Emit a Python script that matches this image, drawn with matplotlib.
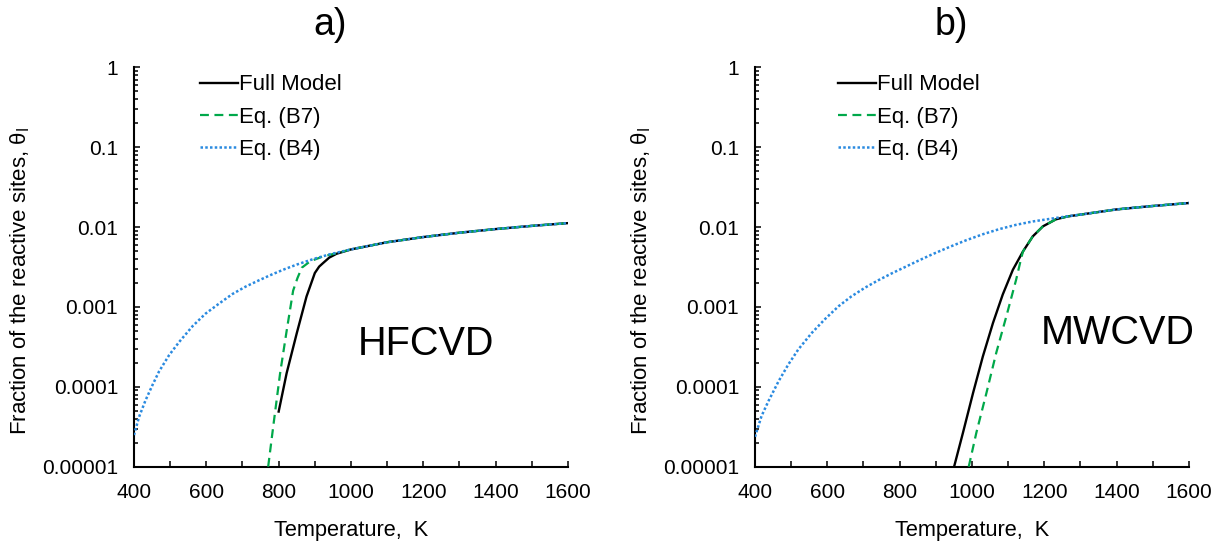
import matplotlib
matplotlib.use('Agg')
import matplotlib.pyplot as plt
from matplotlib.ticker import MultipleLocator, LogLocator, NullFormatter

plt.rcParams['font.family'] = ['Liberation Sans', 'DejaVu Sans']
plt.rcParams['mathtext.fontset'] = 'custom'
plt.rcParams['mathtext.rm'] = 'Liberation Sans'

# --- a) HFCVD ---
full_T_a = [800, 822, 850, 877, 900, 912, 923, 940, 960, 1000, 1100, 1200, 1300, 1400, 1500, 1600]
full_a = [4.9e-5, 1.48e-4, 4.68e-4, 1.35e-3, 2.66e-3, 3.2e-3, 3.55e-3, 4.15e-3, 4.63e-3, 5.25e-3,
          6.46e-3, 7.5e-3, 8.5e-3, 9.44e-3, 1.035e-2, 1.12e-2]
b7_T_a = [771, 785, 804, 822, 840, 852, 864, 887, 923, 960, 1000, 1100, 1200, 1300, 1400, 1500, 1600]
b7_a = [1.0e-5, 3.2e-5, 1.48e-4, 5.0e-4, 1.6e-3, 2.3e-3, 3.1e-3, 3.72e-3, 4.3e-3, 4.7e-3, 5.25e-3,
        6.46e-3, 7.5e-3, 8.5e-3, 9.44e-3, 1.035e-2, 1.12e-2]
b4_T_a = [400, 414, 432, 451, 469, 497, 525, 562, 598, 635, 672, 709, 746, 783, 818, 850, 896, 942,
          1000, 1100, 1200, 1300, 1400, 1500, 1600]
b4_a = [2.49e-5, 4.2e-5, 6.8e-5, 1.05e-4, 1.55e-4, 2.49e-4, 3.65e-4, 5.75e-4, 8.26e-4, 1.10e-3,
        1.45e-3, 1.80e-3, 2.16e-3, 2.57e-3, 2.99e-3, 3.39e-3, 3.98e-3, 4.57e-3,
        5.25e-3, 6.46e-3, 7.5e-3, 8.5e-3, 9.44e-3, 1.035e-2, 1.12e-2]

# --- b) MWCVD ---
full_T_b = [950.5, 975, 1003, 1030, 1058, 1085, 1113, 1141, 1168, 1196, 1232, 1265, 1306, 1398, 1490, 1600]
full_b = [1.0e-5, 2.66e-5, 8.4e-5, 2.4e-4, 6.3e-4, 1.43e-3, 2.92e-3, 4.95e-3, 7.64e-3, 1.02e-2,
          1.25e-2, 1.36e-2, 1.445e-2, 1.66e-2, 1.82e-2, 2.0e-2]
b7_T_b = [991, 1012, 1040, 1067, 1095, 1122, 1135, 1141, 1168, 1196, 1232, 1265, 1306, 1398, 1490, 1600]
b7_b = [1.0e-5, 2.66e-5, 8.4e-5, 2.66e-4, 7.64e-4, 2.19e-3, 3.9e-3, 4.95e-3, 7.64e-3, 1.02e-2,
        1.25e-2, 1.36e-2, 1.445e-2, 1.66e-2, 1.82e-2, 2.0e-2]
b4_T_b = [400, 418, 437, 465, 492, 520, 557, 594, 631, 667, 704, 741, 778, 815, 852, 893, 940, 984,
          1030, 1076, 1122, 1168, 1232, 1265, 1306, 1398, 1490, 1600]
b4_b = [2.37e-5, 4.3e-5, 6.6e-5, 1.17e-4, 1.9e-4, 2.95e-4, 4.73e-4, 7.08e-4, 1.02e-3, 1.36e-3,
        1.74e-3, 2.16e-3, 2.63e-3, 3.16e-3, 3.80e-3, 4.62e-3, 5.69e-3, 6.84e-3,
        8.13e-3, 9.44e-3, 1.067e-2, 1.175e-2, 1.30e-2, 1.365e-2, 1.445e-2, 1.66e-2, 1.82e-2, 2.0e-2]

y_ticks = [1e-5, 1e-4, 1e-3, 1e-2, 1e-1, 1]
y_labels = ['0.00001', '0.0001', '0.001', '0.01', '0.1', '1']
x_ticks = [400, 600, 800, 1000, 1200, 1400, 1600]

green = '#00A84A'
blue = '#2A8AE0'

W, H = 1225, 548
fig = plt.figure(figsize=(W / 100, H / 100), dpi=100)


def make_panel(left_px, full_T, full, b7_T, b7, b4_T, b4, tag, tag_x, name, name_xy, leg_x):
    ax = fig.add_axes([left_px / W, 1 - 466.7 / H, 434 / W, 399.4 / H])
    ax.plot(full_T, full, color='black', lw=1.7, label='Full Model', zorder=3)
    ax.plot(b7_T, b7, color=green, lw=1.6, ls=(0, (4, 2.5)), label='Eq. (B7)', zorder=4)
    ax.plot(b4_T, b4, color=blue, lw=1.8, ls=(0, (1, 0.9)), label='Eq. (B4)', zorder=5)
    ax.set_yscale('log')
    ax.set_ylim(1e-5, 1)
    ax.set_xlim(400, 1600)
    ax.set_yticks(y_ticks)
    ax.set_yticklabels(y_labels)
    ax.yaxis.set_minor_locator(LogLocator(base=10, subs=range(2, 10), numticks=20))
    ax.yaxis.set_minor_formatter(NullFormatter())
    ax.set_xticks(x_ticks)
    ax.xaxis.set_minor_locator(MultipleLocator(100))
    for s in ['top', 'right']:
        ax.spines[s].set_visible(False)
    for s in ['left', 'bottom']:
        ax.spines[s].set_linewidth(1.5)
    ax.tick_params(which='major', direction='in', length=4, width=1.1, labelsize=15)
    ax.tick_params(which='minor', direction='in', length=3, width=1.1)
    ax.tick_params(axis='x', which='both', pad=11.5)
    ax.tick_params(axis='x', which='minor', length=4)
    ax.tick_params(axis='y', which='major', pad=11.5)
    ax.set_xlabel('Temperature,  K', fontsize=15.7)
    ax.xaxis.set_label_coords(0.5, -0.133)
    ax.set_ylabel('Fraction of the reactive sites, θ$_\\mathregular{I}$', fontsize=16)
    ax.yaxis.set_label_coords(-0.235, 0.465)
    ax.legend(loc='upper left', bbox_to_anchor=(leg_x, 0.982), frameon=False, fontsize=16,
              handlelength=1.7, handletextpad=0.05, borderpad=0, borderaxespad=0, labelspacing=0.5)
    ax.text(name_xy[0], name_xy[1], name, transform=ax.transAxes, fontsize=28.5,
            ha='center', va='center')
    fig.text(tag_x / W, 1 - 25 / H, tag, fontsize=27, ha='center', va='center')
    return ax


make_panel(134, full_T_a, full_a, b7_T_a, b7_a, b4_T_a, b4_a, 'a)', 330, 'HFCVD', (0.673, 0.307), 0.152)
make_panel(755, full_T_b, full_b, b7_T_b, b7_b, b4_T_b, b4_b, 'b)', 951, 'MWCVD', (0.836, 0.335), 0.192)

fig.savefig('out.png', dpi=100)
